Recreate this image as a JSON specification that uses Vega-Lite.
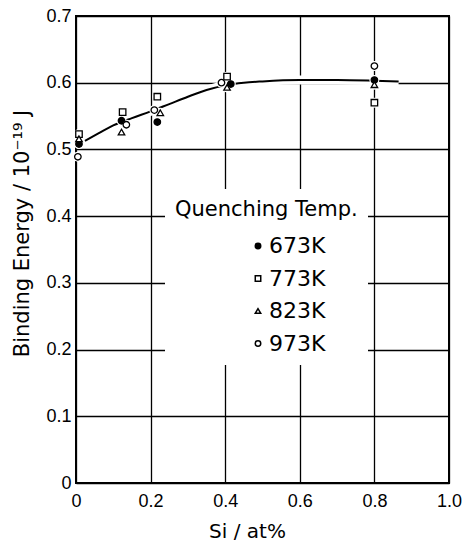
{
  "$schema": "https://vega.github.io/schema/vega-lite/v6.json",
  "width": 373,
  "height": 467,
  "autosize": {"type": "none"},
  "padding": {"left": 76, "top": 16, "right": 14, "bottom": 58},
  "background": "white",
  "datasets": {
    "fit": [
      {"si": 0.024, "energy": 0.513},
      {"si": 0.06, "energy": 0.524},
      {"si": 0.1, "energy": 0.536},
      {"si": 0.15, "energy": 0.547},
      {"si": 0.2, "energy": 0.557},
      {"si": 0.25, "energy": 0.568},
      {"si": 0.3, "energy": 0.579},
      {"si": 0.35, "energy": 0.589},
      {"si": 0.4, "energy": 0.596},
      {"si": 0.45, "energy": 0.6},
      {"si": 0.5, "energy": 0.602},
      {"si": 0.6, "energy": 0.604},
      {"si": 0.7, "energy": 0.604},
      {"si": 0.8, "energy": 0.603},
      {"si": 0.865, "energy": 0.602}
    ],
    "points": [
      {"si": 0.008, "energy": 0.508, "temp": "673K"},
      {"si": 0.008, "energy": 0.523, "temp": "773K"},
      {"si": 0.008, "energy": 0.516, "temp": "823K"},
      {"si": 0.005, "energy": 0.489, "temp": "973K"},
      {"si": 0.122, "energy": 0.543, "temp": "673K"},
      {"si": 0.125, "energy": 0.556, "temp": "773K"},
      {"si": 0.122, "energy": 0.526, "temp": "823K"},
      {"si": 0.135, "energy": 0.537, "temp": "973K"},
      {"si": 0.218, "energy": 0.541, "temp": "673K"},
      {"si": 0.218, "energy": 0.579, "temp": "773K"},
      {"si": 0.226, "energy": 0.555, "temp": "823K"},
      {"si": 0.21, "energy": 0.559, "temp": "973K"},
      {"si": 0.415, "energy": 0.598, "temp": "673K"},
      {"si": 0.405, "energy": 0.609, "temp": "773K"},
      {"si": 0.405, "energy": 0.593, "temp": "823K"},
      {"si": 0.39, "energy": 0.6, "temp": "973K"},
      {"si": 0.8, "energy": 0.604, "temp": "673K"},
      {"si": 0.8, "energy": 0.57, "temp": "773K"},
      {"si": 0.8, "energy": 0.597, "temp": "823K"},
      {"si": 0.8, "energy": 0.625, "temp": "973K"}
    ]
  },
  "encoding": {
    "x": {
      "field": "si",
      "type": "quantitative",
      "scale": {"domain": [0, 1], "nice": false, "zero": false},
      "axis": {
        "title": "Si / at%",
        "values": [0, 0.2, 0.4, 0.6, 0.8, 1.0],
        "labelExpr": "datum.value == 0 ? '0' : format(datum.value, '.1f')",
        "labelFlush": false,
        "labelPadding": 9,
        "titleX": 171,
        "titleY": 54,
        "titleBaseline": "alphabetic",
        "titleFontSize": 20
      }
    },
    "y": {
      "field": "energy",
      "type": "quantitative",
      "scale": {"domain": [0, 0.7], "nice": false, "zero": false},
      "axis": {
        "title": "Binding Energy / 10⁻¹⁹ J",
        "values": [0, 0.1, 0.2, 0.3, 0.4, 0.5, 0.6, 0.7],
        "labelExpr": "datum.value == 0 ? '0' : format(datum.value, '.1f')",
        "labelFlush": false,
        "labelPadding": 5,
        "titleX": -54,
        "titleY": 217,
        "titleBaseline": "middle",
        "titleFontSize": 21
      }
    }
  },
  "layer": [
    {
      "data": {"name": "fit"},
      "mark": {"type": "line", "interpolate": "monotone", "stroke": "white", "strokeWidth": 9}
    },
    {
      "data": {"name": "fit"},
      "mark": {"type": "line", "interpolate": "monotone", "stroke": "black", "strokeWidth": 2}
    },
    {
      "data": {"name": "points"},
      "mark": {"type": "circle", "size": 100, "fill": "white", "opacity": 1, "stroke": null}
    },
    {
      "data": {"name": "points"},
      "mark": {"type": "point", "filled": true, "size": 42, "stroke": "black", "strokeWidth": 1.3, "opacity": 1},
      "encoding": {
        "shape": {
          "field": "temp",
          "type": "nominal",
          "scale": {"domain": ["673K", "773K", "823K", "973K"], "range": ["circle", "square", "triangle-up", "circle"]},
          "legend": {
            "title": "Quenching Temp.",
            "orient": "none",
            "legendX": 89,
            "legendY": 173,
            "fillColor": "white",
            "padding": 10,
            "symbolOffset": 72,
            "labelOffset": 0,
            "rowPadding": 10.5,
            "titlePadding": 15,
            "symbolSize": 30,
            "encode": {
              "symbols": {"update": {"stroke": {"value": "black"}, "strokeWidth": {"value": 1.2}, "opacity": {"value": 1}}}
            }
          }
        },
        "fill": {
          "field": "temp",
          "type": "nominal",
          "scale": {"domain": ["673K", "773K", "823K", "973K"], "range": ["black", "white", "white", "white"]},
          "legend": {
            "title": "Quenching Temp.",
            "orient": "none",
            "legendX": 89,
            "legendY": 173,
            "fillColor": "white",
            "padding": 10,
            "symbolOffset": 72,
            "labelOffset": 0,
            "rowPadding": 10.5,
            "titlePadding": 15,
            "symbolSize": 30,
            "encode": {
              "symbols": {"update": {"stroke": {"value": "black"}, "strokeWidth": {"value": 1.2}, "opacity": {"value": 1}}}
            }
          }
        }
      }
    }
  ],
  "config": {
    "view": {"stroke": "black", "strokeWidth": 2},
    "axis": {
      "domain": false,
      "ticks": false,
      "grid": true,
      "gridColor": "black",
      "gridOpacity": 1,
      "gridWidth": 1.3,
      "labelFont": "Liberation Sans",
      "labelFontSize": 18,
      "labelColor": "black",
      "titleFont": "DejaVu Sans",
      "titleFontWeight": "normal",
      "titleColor": "black"
    },
    "legend": {
      "labelFont": "DejaVu Sans",
      "labelFontSize": 22,
      "labelColor": "black",
      "titleFont": "DejaVu Sans",
      "titleFontSize": 21,
      "titleFontWeight": "normal",
      "titleColor": "black",
      "titleLimit": 400,
      "labelLimit": 200
    }
  }
}
